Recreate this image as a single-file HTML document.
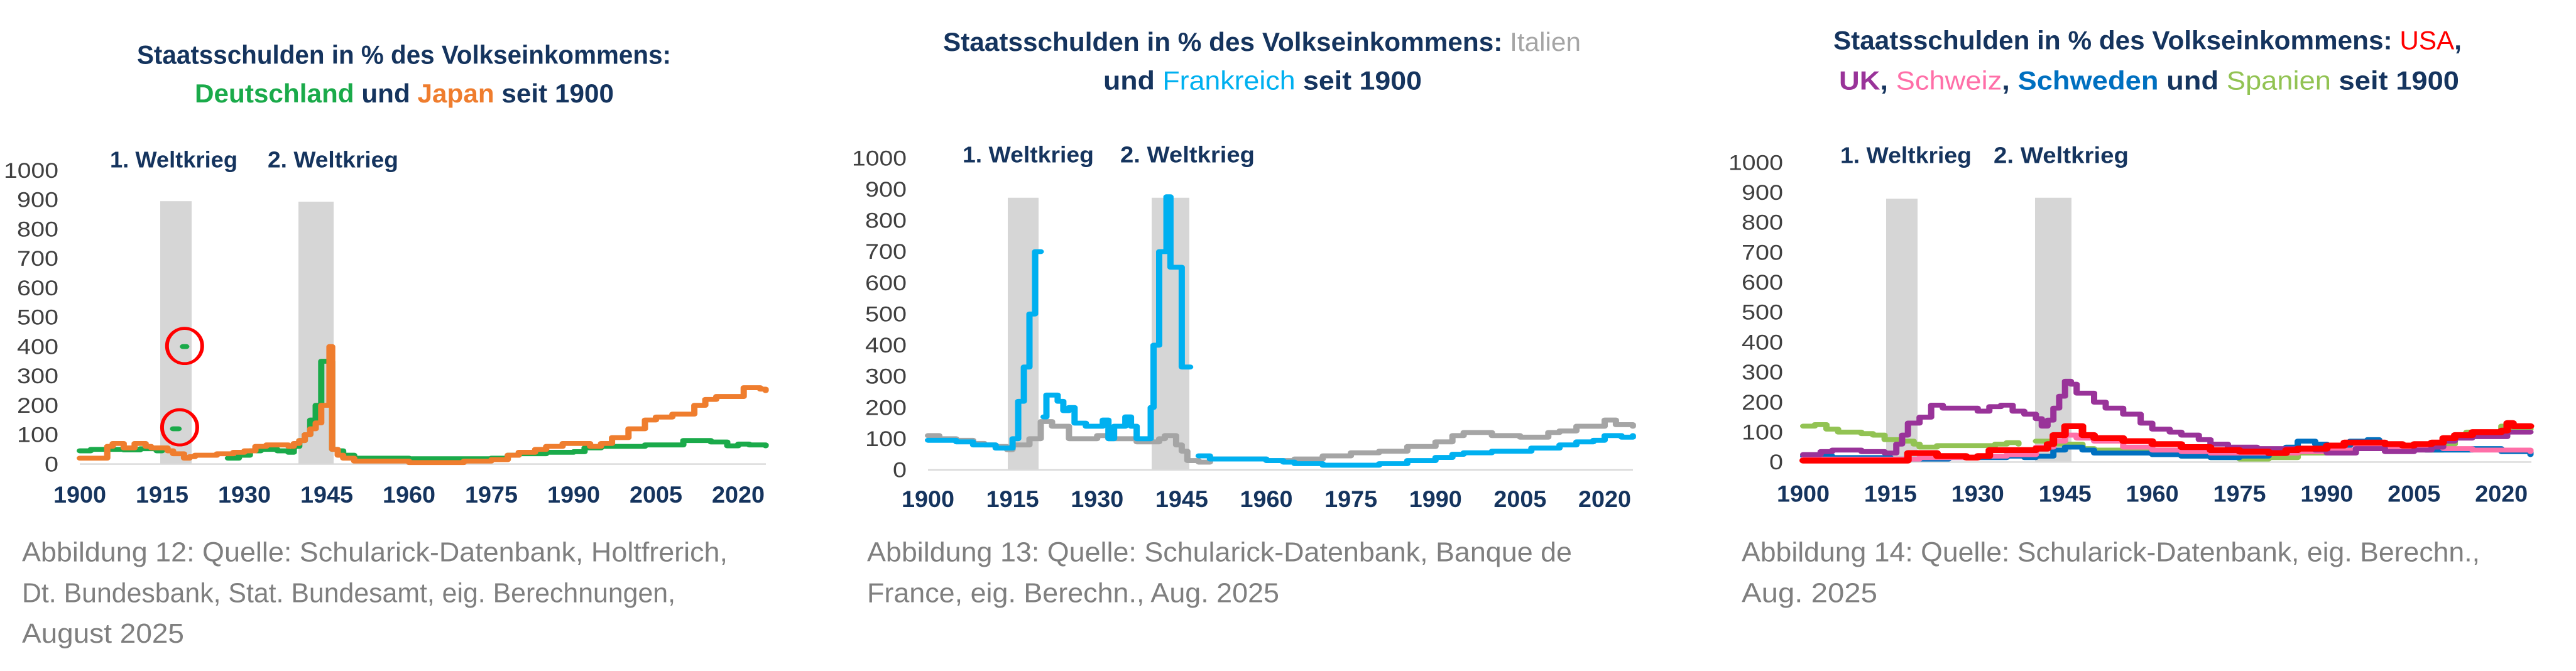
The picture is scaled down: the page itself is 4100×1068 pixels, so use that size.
<!DOCTYPE html>
<html><head><meta charset="utf-8"><style>
html,body{margin:0;padding:0;background:#fff;overflow:hidden;}
svg{display:block;}
text{font-family:"Liberation Sans",sans-serif;}
</style></head><body>
<svg width="4100" height="1068" viewBox="0 0 4100 1068" xmlns="http://www.w3.org/2000/svg">
<g id="s" transform="scale(1,0.7791)">
<g font-weight="bold" font-size="54" fill="#15345e">
<text x="218" y="130" textLength="850" lengthAdjust="spacingAndGlyphs">Staatsschulden in % des Volkseinkommens:</text>
<text x="310" y="209" textLength="667" lengthAdjust="spacingAndGlyphs"><tspan fill="#1aaa4a">Deutschland</tspan> und <tspan fill="#ef7d2e">Japan</tspan> seit 1900</text>
<text x="1501" y="104" textLength="1015" lengthAdjust="spacingAndGlyphs">Staatsschulden in % des Volkseinkommens: <tspan fill="#a5a5a5" font-weight="normal">Italien</tspan></text>
<text x="1756" y="183" textLength="507" lengthAdjust="spacingAndGlyphs">und <tspan fill="#00b0f0" font-weight="normal">Frankreich</tspan> seit 1900</text>
<text x="2918" y="101" textLength="1000" lengthAdjust="spacingAndGlyphs">Staatsschulden in % des Volkseinkommens: <tspan fill="#ff0000" font-weight="normal">USA</tspan>,</text>
<text x="2927" y="183" textLength="987" lengthAdjust="spacingAndGlyphs"><tspan fill="#993399">UK</tspan>, <tspan fill="#ff6fa8" font-weight="normal">Schweiz</tspan>, <tspan fill="#0070c0">Schweden</tspan> und <tspan fill="#92c353" font-weight="normal">Spanien</tspan> seit 1900</text>
</g>
<g font-size="56" fill="#7f7f7f">
<text x="35" y="1147" textLength="1123" lengthAdjust="spacingAndGlyphs">Abbildung 12: Quelle: Schularick-Datenbank, Holtfrerich,</text>
<text x="35" y="1230" textLength="1040" lengthAdjust="spacingAndGlyphs">Dt. Bundesbank, Stat. Bundesamt, eig. Berechnungen,</text>
<text x="35" y="1313" textLength="258" lengthAdjust="spacingAndGlyphs">August 2025</text>
<text x="1380" y="1147" textLength="1122" lengthAdjust="spacingAndGlyphs">Abbildung 13: Quelle: Schularick-Datenbank, Banque de</text>
<text x="1380" y="1230" textLength="656" lengthAdjust="spacingAndGlyphs">France, eig. Berechn., Aug. 2025</text>
<text x="2772" y="1147" textLength="1175" lengthAdjust="spacingAndGlyphs">Abbildung 14: Quelle: Schularick-Datenbank, eig. Berechn.,</text>
<text x="2772" y="1230" textLength="216" lengthAdjust="spacingAndGlyphs">Aug. 2025</text>
</g>
</g>
</svg>
<script>
var NS="http://www.w3.org/2000/svg",S=document.getElementById('s');
function el(t,a,txt){var e=document.createElementNS(NS,t);for(var k in a)e.setAttribute(k,a[k]);if(txt!=null)e.textContent=txt;S.appendChild(e);return e;}
function chart(c){
 var X=function(y){return c.x0+(y-1900)*c.py;},Y=function(v){return c.y0-v*c.pv;};
 c.bars.forEach(function(b){el('rect',{x:b[0],y:b[2],width:b[1]-b[0],height:c.y0-b[2],fill:'#d6d6d6'});});
 el('line',{x1:c.x0,x2:c.xe,y1:c.y0,y2:c.y0,stroke:'#d9d9d9','stroke-width':3});
 for(var v=0;v<=1000;v+=100){el('text',{x:c.yl,y:Y(v)+15,'text-anchor':'end','font-size':44,fill:'#404040',textLength:(v>=1000?87:v>=100?66:22),lengthAdjust:'spacingAndGlyphs'},String(v));}
 [1900,1915,1930,1945,1960,1975,1990,2005,2020].forEach(function(yr){el('text',{x:X(yr)-42,y:c.xly,'font-size':48,'font-weight':'bold',fill:'#15345e',textLength:84,lengthAdjust:'spacingAndGlyphs'},String(yr));});
 el('text',{x:c.w1[0],y:c.wy,'font-size':46,'font-weight':'bold',fill:'#15345e',textLength:c.w1[1]-c.w1[0],lengthAdjust:'spacingAndGlyphs'},'1. Weltkrieg');
 el('text',{x:c.w2[0],y:c.wy,'font-size':46,'font-weight':'bold',fill:'#15345e',textLength:c.w2[1]-c.w2[0],lengthAdjust:'spacingAndGlyphs'},'2. Weltkrieg');
 c.series.forEach(function(s){
  s.segs.forEach(function(seg){
   var p=[];for(var i=0;i<seg.length;i+=2){var yr=seg[i],v=seg[i+1];
    if(i>0)p.push(X(yr).toFixed(1)+','+Y(seg[i-1]).toFixed(1));
    p.push(X(yr).toFixed(1)+','+Y(v).toFixed(1));}
   el('polyline',{points:p.join(' '),fill:'none',stroke:s.c,'stroke-width':s.w||10,'stroke-linejoin':'round','stroke-linecap':'round'});
  });
 });
 if(c.extra)c.extra(X,Y);
}
chart({x0:127,py:8.733,y0:948,pv:0.6,xe:1219,yl:93,xly:1027,wy:342,w1:[175,378],w2:[426,634],
 bars:[[255,305,411],[475,531,412]],
 series:[
 {c:'#1aaa4a',segs:[[1900,45,1902,50,1908,48,1911,52,1914,45,1915,45],[1917,120,1918,120],[1918.8,400,1919.4,400],
   [1927,20,1929,30,1931,45,1933,50,1936,45,1938,40,1939,60,1940,80,1941,100,1942,150,1943,200,1944,350,1945,350,1946,50,1947,45,1948,30,1950,20,1955,20,1960,18,1965,18,1970,18,1975,20,1978,30,1980,35,1985,40,1990,42,1992,55,1995,60,2000,60,2003,65,2008,65,2010,80,2012,80,2015,75,2018,62,2020,68,2022,65,2025,62]]},
 {c:'#ef7d2e',segs:[[1900,20,1904,20,1905,60,1906,70,1908,55,1910,70,1912,60,1913,55,1915,55,1916,45,1917,35,1919,20,1920,25,1921,30,1925,35,1928,40,1930,45,1932,60,1934,65,1938,60,1939,70,1940,80,1941,100,1942,120,1943,140,1944,200,1945,200,1945.5,400,1946,50,1947,30,1948,20,1950,10,1955,10,1960,5,1967,5,1970,10,1975,15,1978,30,1980,40,1983,50,1985,60,1988,70,1990,70,1993,60,1995,70,1997,90,2000,120,2003,150,2005,160,2008,170,2010,170,2012,200,2014,220,2016,230,2020,230,2021,260,2024,255,2025,250]]}
 ],
 extra:function(X,Y){el('ellipse',{cx:X(1918.2),cy:Y(125),rx:28,ry:36,fill:'none',stroke:'#ff0000','stroke-width':6});el('ellipse',{cx:X(1919.1),cy:Y(402),rx:28,ry:36,fill:'none',stroke:'#ff0000','stroke-width':6});}
});
chart({x0:1477,py:8.975,y0:960,pv:0.637,xe:2599,yl:1443,xly:1036,wy:332,w1:[1532,1741],w2:[1783,1997],
 bars:[[1604,1653,404],[1833,1893,404]],
 series:[
 {c:'#a5a5a5',segs:[[1900,110,1902,100,1905,95,1908,85,1910,80,1912,75,1914,65,1915,80,1917,80,1918,100,1920,155,1922,140,1924,140,1925,100,1927,100,1930,110,1932,100,1935,100,1937,90,1940,90,1941,100,1942,110,1944,80,1945,60,1946,30,1948,25,1950,35,1960,30,1965,35,1970,45,1975,55,1980,60,1985,75,1990,90,1993,110,1995,120,2000,110,2005,105,2008,105,2010,120,2012,125,2015,140,2019,140,2020,160,2022,145,2025,140]]},
 {c:'#00b0f0',segs:[[1900,95,1902,95,1905,90,1908,80,1910,80,1912,70,1914,70,1915,100,1916,220,1917,330,1918,500,1919,700,1920,700],
   [1920.5,170,1921,240,1923,220,1924,190,1925,200,1926,150,1928,140,1930,140,1931,160,1932,100,1933,140,1935,170,1936,140,1937,100,1939,100,1939.5,200,1940,400,1941,700,1942,700,1942.3,876,1943,650,1944.5,650,1945,330,1946.5,330],
   [1948,45,1950,35,1955,35,1960,30,1963,25,1965,20,1970,15,1975,15,1980,20,1985,30,1990,40,1993,50,1995,55,2000,60,2005,60,2007,70,2010,70,2012,80,2015,90,2018,95,2020,110,2023,105,2025,110]]}
 ]});
chart({x0:2870,py:9.26,y0:944,pv:0.612,xe:4029,yl:2838,xly:1025,wy:333,w1:[2929,3138],w2:[3173,3388],
 bars:[[3002,3052,406],[3239,3297,404]],
 series:[
 {c:'#92c353',segs:[[1900,120,1902,125,1904,110,1906,100,1910,95,1912,90,1914,75,1917,70,1919,60,1920,50,1923,55,1927,55,1930,55,1933,60,1935,65,1937,60],[1940,70,1942,70,1943,60,1945,60,1948,45,1950,40,1955,35,1960,25,1965,20,1970,15,1975,10,1980,15,1985,30,1990,40,1995,55,2000,55,2005,45,2007,40,2010,60,2012,90,2014,100,2018,100,2020,120,2022,115,2025,110]]},
 {c:'#0070c0',segs:[[1900,20,1905,15,1910,15,1915,10,1920,10,1925,15,1930,15,1935,20,1938,15,1940,20,1943,40,1945,50,1948,40,1950,30,1955,30,1960,25,1965,20,1970,15,1975,20,1980,35,1983,50,1985,70,1988,60,1990,45,1992,55,1994,70,1997,75,1999,55,2003,50,2007,40,2010,40,2015,45,2020,35,2025,25]]},
 {c:'#ff6fa8',segs:[[1900,10,1910,10,1920,15,1930,20,1935,25,1940,50,1943,70,1945,90,1947,80,1950,70,1955,50,1960,40,1965,35,1970,30,1980,30,1985,35,1990,40,1995,50,2000,50,2005,50,2010,45,2015,40,2020,40,2025,35]]},
 {c:'#993399',segs:[[1900,25,1903,35,1905,40,1910,35,1914,30,1916,60,1917,90,1918,130,1920,150,1922,190,1924,180,1926,180,1930,170,1932,185,1934,190,1936,170,1938,160,1940,145,1941,120,1942,140,1943,180,1944,220,1945,270,1946,260,1947,230,1950,200,1952,180,1955,160,1958,130,1960,110,1963,100,1965,90,1968,75,1970,60,1973,50,1975,50,1978,45,1980,45,1985,45,1988,40,1990,30,1993,30,1995,45,1998,45,2000,35,2003,35,2005,40,2008,50,2010,70,2012,80,2015,85,2018,85,2020,85,2021,100,2025,100]]},
 {c:'#ff0000',w:12,segs:[[1900,5,1910,5,1917,5,1918,30,1920,30,1923,20,1928,15,1930,20,1932,40,1936,40,1940,45,1942,60,1943,90,1945,120,1946,120,1948,90,1950,80,1955,70,1960,60,1965,50,1970,40,1975,35,1980,30,1983,40,1985,45,1990,55,1993,65,1996,65,2000,60,2003,55,2005,60,2008,65,2010,80,2012,90,2015,100,2018,100,2020,105,2021,130,2022,120,2025,120]]}
 ]});
</script>
</body></html>
